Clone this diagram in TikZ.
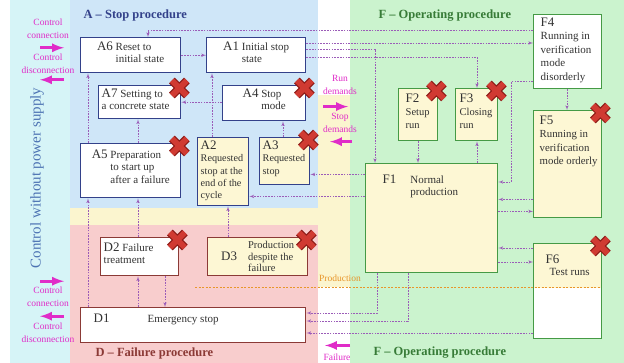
\documentclass[tikz,border=0pt]{standalone}
\usepackage{fontspec}
\setmainfont{Liberation Serif}
\usepackage{tikz}
\usetikzlibrary{shapes,arrows,calc}
\definecolor{bluezone}{HTML}{CFE6F8}
\definecolor{greenzone}{HTML}{CBF3CE}
\definecolor{pinkzone}{HTML}{F8CDCD}
\definecolor{yelzone}{HTML}{FBF5CF}
\definecolor{cyanzone}{HTML}{D6F4F7}
\definecolor{navy}{HTML}{33418A}
\definecolor{brownred}{HTML}{8B3A36}
\definecolor{stepgreen}{HTML}{459A45}
\definecolor{boxyel}{HTML}{FDF7D4}
\definecolor{linkc}{HTML}{9B5CB8}
\definecolor{sigc}{HTML}{E02CC8}
\definecolor{prodc}{HTML}{E8962A}
\definecolor{failred}{HTML}{D03A32}
\definecolor{faildark}{HTML}{8E1C18}
\definecolor{powerc}{HTML}{4D73B3}
\newcommand{\lbl}[1]{{\fontsize{13}{13}\selectfont #1}}
\newcommand{\cellbox}[3]{\parbox[t][#2][t]{#1}{#3}}
\tikzstyle{astep} = [draw=navy, line width=1.4pt, fill=white, anchor=north west, inner sep=3pt, text=black!80, font=\fontsize{11}{12.5}\selectfont]
\tikzstyle{dstep} = [astep, draw=brownred]
\tikzstyle{fstep} = [astep, draw=stepgreen]
\tikzstyle{zonetitle} = [anchor=west, font=\fontsize{12.5}{14}\selectfont\bfseries]
\tikzstyle{note} = [align=center, text=sigc, inner sep=0pt, font=\fontsize{9.5}{12.5}\selectfont]
\tikzstyle{link} = [draw=linkc, dash pattern=on 1.6pt off 1.2pt, line width=0.6pt, -latex']
\tikzstyle{prodline} = [draw=prodc, dash pattern=on 2pt off 1.5pt, line width=0.7pt]
\tikzstyle{sig} = [draw=sigc, line width=3pt, -latex]
\tikzstyle{failxo} = [draw=faildark, line width=8pt]
\tikzstyle{failx} = [draw=failred, line width=5.6pt]
\begin{document}
\begin{tikzpicture}[x=1pt, y=-1pt]
        \useasboundingbox (0,0) rectangle (624,363);
        \fill[cyanzone] (10,0) rectangle (70,363);
        \fill[bluezone] (70,0) rectangle (318,208);
        \fill[greenzone] (350,0) rectangle (624,363);
        \fill[yelzone] (70,208) rectangle (350,225);
        \fill[yelzone] (318,95) rectangle (350,287);
        \fill[pinkzone] (70,225) rectangle (318,363);
        \node[zonetitle, text=navy] (atitle) at (80,15) {A -- Stop procedure};
        \node[zonetitle, text=stepgreen!80!black] (ftitle) at (375,16) {F -- Operating procedure};
        \node[zonetitle, text=brownred] (dtitle) at (92,353) {D -- Failure procedure};
        \node[zonetitle, text=stepgreen!80!black] (fbtitle) at (370,353) {F -- Operating procedure};
        \node[rotate=90, text=powerc, font=\fontsize{15}{16}\selectfont] (nopower) at (37,178) {Control without power supply};
        \node[astep] (a6) at (80,37) {\cellbox{94pt}{29pt}{\centering\vspace*{1pt}\lbl{A6} \begin{tabular}[t]{@{}l@{}}Reset to\\initial state\end{tabular}}};
        \node[astep] (a1) at (206,37) {\cellbox{93pt}{29pt}{\centering\vspace*{1pt}\lbl{A1} \begin{tabular}[t]{@{}l@{}}Initial stop\\state\end{tabular}}};
        \node[astep] (a7) at (98,85) {\cellbox{76pt}{27pt}{\raggedright\lbl{A7} Setting to\\a concrete state}};
        \node[astep] (a4) at (222,85) {\cellbox{77pt}{29pt}{\centering\lbl{A4} \begin{tabular}[t]{@{}l@{}}Stop\\mode\end{tabular}}};
        \node[astep] (a5) at (80,143) {\cellbox{94pt}{48pt}{\centering\vspace*{3pt}\lbl{A5} \begin{tabular}[t]{@{}l@{}}Preparation\\to start up\\after a failure\end{tabular}}};
        \node[astep, fill=boxyel] (a2) at (197,137) {\cellbox{45pt}{62pt}{\raggedright\fontsize{10.2}{12.4}\selectfont\lbl{A2}\\Requested\\stop at the\\end of the\\cycle}};
        \node[astep, fill=boxyel] (a3) at (259,137) {\cellbox{44pt}{41pt}{\raggedright\fontsize{10.2}{12.4}\selectfont\lbl{A3}\\Requested\\stop}};
        \node[dstep] (d2) at (100,237) {\cellbox{72pt}{32pt}{\raggedright\vspace*{2pt}\lbl{D2} Failure\\treatment}};
        \node[dstep, fill=boxyel] (d3) at (207,237) {\cellbox{94pt}{32pt}{\centering\lbl{D3}\quad\fontsize{10.5}{11.5}\selectfont\begin{tabular}{@{}l@{}}Production\\despite the\\failure\end{tabular}}};
        \node[dstep] (d1) at (80,307) {\cellbox{219pt}{29pt}{\vspace*{3pt}\hspace*{10pt}\lbl{D1}\hspace{38pt}Emergency stop}};
        \node[fstep, fill=boxyel] (f1) at (365,163) {\cellbox{126pt}{103pt}{\vspace*{8pt}\hspace*{14pt}\lbl{F1}\hspace{14pt}\begin{tabular}[t]{@{}l@{}}Normal\\production\end{tabular}}};
        \node[fstep, fill=boxyel] (f2) at (398,88) {\cellbox{33pt}{46pt}{\raggedright\leftskip=4pt\fontsize{10.5}{13}\selectfont\vspace*{2pt}\lbl{F2}\\Setup\\run}};
        \node[fstep, fill=boxyel] (f3) at (455,88) {\cellbox{36pt}{46pt}{\raggedright\leftskip=1pt\fontsize{10.5}{13}\selectfont\vspace*{2pt}\lbl{F3}\\Closing\\run}};
        \node[fstep] (f4) at (533,14) {\cellbox{62pt}{68pt}{\raggedright\leftskip=4pt\fontsize{11}{13.5}\selectfont\lbl{F4}\\Running in\\verification\\mode\\disorderly}};
        \node[fstep, fill=boxyel] (f5) at (533,110) {\cellbox{62pt}{101pt}{\raggedright\leftskip=3pt\fontsize{10.8}{13.5}\selectfont\vspace*{2pt}\lbl{F5}\\Running in\\verification\\mode orderly}};
        \node[fstep, path picture={\fill[boxyel] (path picture bounding box.north west) rectangle ([yshift=51pt]path picture bounding box.south east);}] (f6) at (533,243) {\cellbox{62pt}{89pt}{\raggedright\leftskip=9pt\vspace*{8pt}\lbl{F6}\\\hspace*{4pt}Test runs}};
        \node[note] (conn1) at (48,29) {Control\\connection};
        \node[note] (disc1) at (48,64) {Control\\disconnection};
        \node[note] (conn2) at (48,297) {Control\\connection};
        \node[note] (disc2) at (48,333) {Control\\disconnection};
        \node[note] (rundem) at (340,85) {Run\\demands};
        \node[note] (stopdem) at (340,123) {Stop\\demands};
        \node[note] (failure) at (337,357) {Failure};
        \node[note, text=prodc] (prodlbl) at (340,278) {Production};
        \draw[sig] ($(conn1.south)+(-8,9)$) -- ($(conn1.south)+(16,9)$);
        \draw[sig] ($(disc1.south)+(16,6)$) -- ($(disc1.south)+(-8,6)$);
        \draw[sig] ($(conn2.north)+(-8,-6)$) -- ($(conn2.north)+(16,-6)$);
        \draw[sig] ($(disc2.north)+(16,-7)$) -- ($(disc2.north)+(-8,-7)$);
        \draw[sig] ($(rundem.south)+(-17,12)$) -- ($(rundem.south)+(8,12)$);
        \draw[sig] ($(stopdem.south)+(12,9)$) -- ($(stopdem.south)+(-10,9)$);
        \draw[sig] ($(failure.north)+(13,-8)$) -- ($(failure.north)+(-12,-8)$);
        \coordinate (a3in) at ($(a3.south east)+(0,-11)$);
        \coordinate (a2in) at ($(a2.south east)+(0,-10)$);
        \coordinate (a1b) at ($(a1.north east)+(0,6)$);
        \coordinate (a1c) at ($(a1.north east)+(0,12)$);
        \coordinate (a1d) at ($(a1.north east)+(0,20)$);
        \coordinate (f4a) at ($(f4.north west)+(0,16)$);
        \coordinate (f4b) at ($(f4.south west)+(0,-8)$);
        \coordinate (f5a) at ($(f5.south west)+(0,-19)$);
        \coordinate (f5b) at ($(f5.south west)+(0,-7)$);
        \coordinate (f6a) at ($(f6.north west)+(0,5)$);
        \coordinate (f6b) at ($(f6.north west)+(0,19)$);
        \coordinate (d1a) at ($(d1.north east)+(0,6)$);
        \coordinate (d1b) at ($(d1.north east)+(0,14)$);
        \coordinate (d1c) at ($(d1.north east)+(0,26)$);
        \path[link] (a6) -- (a1);
        \path[link] ($(a5.north west)+(8,0)$) -- ($(a6.south west)+(8,0)$);
        \path[link] ($(d1.north west)+(8,0)$) -- ($(a5.south west)+(8,0)$);
        \path[link] ($(d2.north west)+(38,0)$) -- ($(a5.south west)+(58,0)$);
        \path[link] ($(a5.north west)+(58,0)$) -- ($(a7.south west)+(40,0)$);
        \path[link] ($(d1.north west)+(58,0)$) -- ($(d2.south west)+(38,0)$);
        \path[link] ($(d2.south west)+(65,0)$) -- ($(d1.north west)+(85,0)$);
        \path[link] (a4.west |- a7.east) -- (a7.east);
        \path[link] ($(a2.north west)+(15,0)$) -- ($(a1.south west)+(6,0)$);
        \path[link] ($(a3.north west)+(24,0)$) -- ($(a4.south west)+(61,0)$);
        \path[link] (a3in -| f1.west) -- (a3in);
        \path[link] (a2in -| f1.west) -- (a2in);
        \path[link] ($(d3.north west)+(21,0)$) -- ($(a2.south west)+(31,0)$);
        \path[link] (f4a) -| ($(a6.north west)+(68,0)$);
        \path[link] (a1b) -- (a1b -| f4.west);
        \path[link] (a1c) -| ($(f1.north west)+(10,0)$);
        \path[link] (a1d) -| ($(f3.north west)+(22,0)$);
        \path[link] ($(f2.south west)+(20,0)$) -- ($(f1.north west)+(53,0)$);
        \path[link] ($(f1.north west)+(112,0)$) -- ($(f3.south west)+(22,0)$);
        \path[link] ($(f4.south west)+(34,0)$) -- ($(f5.north west)+(34,0)$);
        \path[link] (f4b) -| ($(f1.north east)+(13,19)$) -- ($(f1.north east)+(0,19)$);
        \path[link] (f5a) -- (f5a -| f1.east);
        \path[link] (f5b -| f1.east) -- (f5b);
        \path[link] (f6a) -- (f6a -| f1.east);
        \path[link] (f6b -| f1.east) -- (f6b);
        \path[link] ($(f1.south west)+(12,0)$) |- (d1a);
        \path[link] ($(f1.south west)+(43,0)$) |- (d1b);
        \path[link] (f6.west |- d1c) -- (d1c);
        \draw[prodline] (195,287) -- (600,287);
        \foreach \n in {a7,a4,a5,a3,d2,d3,f2,f3,f5,f6} {
            \path (\n.north east) ++(-2,3) coordinate (x\n);
            \draw[failxo] ($(x\n)+(-7.5,-7.5)$) -- ($(x\n)+(7.5,7.5)$) ($(x\n)+(-7.5,7.5)$) -- ($(x\n)+(7.5,-7.5)$);
            \draw[failx] ($(x\n)+(-7.5,-7.5)$) -- ($(x\n)+(7.5,7.5)$) ($(x\n)+(-7.5,7.5)$) -- ($(x\n)+(7.5,-7.5)$);
        }
    \end{tikzpicture}
\end{document}
